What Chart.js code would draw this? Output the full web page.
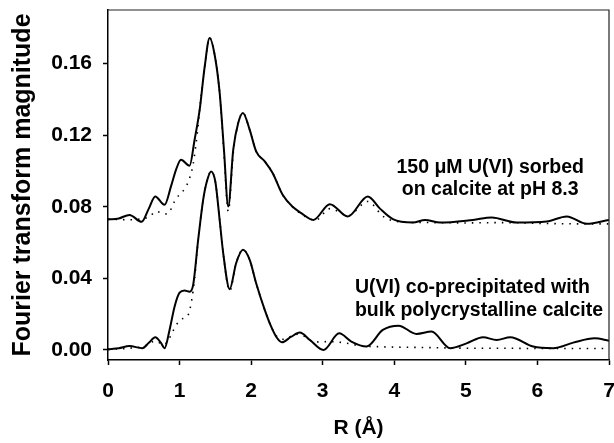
<!DOCTYPE html>
<html>
<head>
<meta charset="utf-8">
<script src="https://cdn.jsdelivr.net/npm/chart.js@4.4.1/dist/chart.umd.min.js"></script>
<style>
  html, body { margin: 0; padding: 0; background: #fff; }
  #wrap { width: 614px; height: 443px; }
</style>
</head>
<body>
<div id="wrap"><canvas id="ftChart"></canvas></div>
<script>
// sorbed U(VI) on calcite, pH 8.3 (offset curve) - experiment and fit
var sorbedR = [0, 0.15, 0.30, 0.47, 0.57, 0.66, 0.79, 0.88, 0.95, 1.02, 1.14, 1.21, 1.28, 1.35, 1.42, 1.49, 1.56, 1.62, 1.68, 1.75, 1.82, 1.885, 1.98, 2.07, 2.19, 2.30, 2.44, 2.58, 2.70, 2.87, 3.10, 3.35, 3.63, 3.80, 3.98, 4.26, 4.43, 4.64, 5.10, 5.36, 5.71, 6.13, 6.41, 6.69, 7.0];
var sorbedData = [0.0730, 0.0735, 0.0755, 0.0716, 0.0790, 0.0858, 0.0811, 0.0914, 0.1007, 0.1063, 0.1030, 0.1175, 0.1340, 0.1580, 0.1744, 0.1650, 0.1438, 0.1120, 0.0802, 0.1120, 0.1270, 0.1325, 0.1230, 0.1110, 0.1054, 0.0989, 0.0867, 0.0800, 0.0765, 0.0727, 0.0815, 0.0746, 0.0858, 0.0790, 0.0731, 0.0712, 0.0727, 0.0712, 0.0727, 0.0740, 0.0712, 0.0718, 0.0746, 0.0705, 0.0727];
var sorbedFitR = [0, 0.30, 0.50, 0.58, 0.67, 0.76, 0.83, 0.93, 1.00, 1.07, 1.14, 1.19, 1.25, 1.28, 1.35, 1.42, 1.49, 1.56, 1.62, 1.68, 1.75, 1.82, 1.885, 1.98, 2.07, 2.19, 2.30, 2.44, 2.58, 2.70, 2.90, 3.10, 3.35, 3.63, 3.85, 4.10, 4.50, 5.00, 5.50, 6.00, 6.50, 7.0];
var sorbedFit = [0.0730, 0.0728, 0.0735, 0.0745, 0.0775, 0.0765, 0.0760, 0.0830, 0.0870, 0.0900, 0.0960, 0.1040, 0.1220, 0.1340, 0.1580, 0.1744, 0.1650, 0.1438, 0.1100, 0.0775, 0.1100, 0.1270, 0.1325, 0.1230, 0.1110, 0.1054, 0.0989, 0.0867, 0.0800, 0.0760, 0.0725, 0.0790, 0.0750, 0.0830, 0.0745, 0.0715, 0.0712, 0.0710, 0.0712, 0.0708, 0.0705, 0.0705];

// co-precipitated U(VI) in bulk calcite - experiment and fit
var coppR = [0, 0.15, 0.30, 0.48, 0.57, 0.66, 0.74, 0.79, 0.86, 0.93, 1.00, 1.07, 1.14, 1.19, 1.26, 1.33, 1.38, 1.44, 1.50, 1.56, 1.61, 1.70, 1.79, 1.885, 1.98, 2.07, 2.19, 2.28, 2.35, 2.43, 2.56, 2.68, 2.82, 3.01, 3.23, 3.40, 3.61, 3.84, 4.06, 4.31, 4.52, 4.78, 5.01, 5.24, 5.43, 5.62, 5.94, 6.22, 6.50, 6.80, 7.0];
var coppData = [0.0004, 0.0010, 0.0022, 0.0010, 0.0040, 0.0071, 0.0040, 0.0010, 0.0112, 0.0242, 0.0320, 0.0332, 0.0326, 0.0364, 0.0616, 0.0840, 0.0940, 0.0998, 0.0940, 0.0727, 0.0540, 0.0340, 0.0485, 0.0560, 0.0504, 0.0373, 0.0224, 0.0130, 0.0074, 0.0043, 0.0074, 0.0097, 0.0056, 0.0000, 0.0093, 0.0047, 0.0019, 0.0112, 0.0136, 0.0090, 0.0103, 0.0010, 0.0037, 0.0071, 0.0056, 0.0071, 0.0019, 0.0010, 0.0041, 0.0065, 0.0052];
var coppFitR = [0, 0.30, 0.50, 0.66, 0.78, 0.85, 0.90, 0.97, 1.05, 1.12, 1.17, 1.21, 1.26, 1.33, 1.38, 1.44, 1.50, 1.56, 1.61, 1.70, 1.79, 1.885, 1.98, 2.07, 2.19, 2.28, 2.35, 2.45, 2.55, 2.65, 2.75, 2.85, 2.95, 3.10, 3.30, 3.50, 3.80, 4.20, 4.70, 5.00, 5.50, 6.00, 6.50, 7.0];
var coppFit = [0.0003, 0.0010, 0.0020, 0.0050, 0.0030, 0.0060, 0.0100, 0.0149, 0.0177, 0.0196, 0.0280, 0.0400, 0.0616, 0.0840, 0.0940, 0.0998, 0.0940, 0.0727, 0.0540, 0.0330, 0.0485, 0.0560, 0.0504, 0.0373, 0.0224, 0.0130, 0.0080, 0.0060, 0.0075, 0.0088, 0.0075, 0.0050, 0.0045, 0.0047, 0.0040, 0.0025, 0.0018, 0.0015, 0.0012, 0.0010, 0.0010, 0.0008, 0.0008, 0.0008];

var yTicks = [0, 0.04, 0.08, 0.12, 0.16];
var xTicks = [0, 1, 2, 3, 4, 5, 6, 7];

var notes = [
    { lines: ['150 \u03BCM U(VI) sorbed', 'on calcite at pH 8.3'], x: 5.34, y: [0.0989, 0.0867], align: 'center' },
    { lines: ['U(VI) co-precipitated with', 'bulk polycrystalline calcite'], x: 3.45, y: [0.0317, 0.0190], align: 'left' }
];

var FONT = '"Liberation Sans", Arial, sans-serif';

function pts(rs, vs) {
    return rs.map(function (r, i) { return { x: r, y: vs[i] }; });
}

function solid(data) {
    return { data: data, borderColor: '#000', borderWidth: 2, pointRadius: 0, fill: false, cubicInterpolationMode: 'monotone' };
}
function dotted(data) {
    return { data: data, borderColor: '#000', borderWidth: 1.6, borderDash: [1.5, 6], pointRadius: 0, fill: false, cubicInterpolationMode: 'monotone' };
}

var ftChart = new Chart(document.getElementById('ftChart'), {
    type: 'line',
    data: {
        datasets: [
            dotted(pts(sorbedFitR, sorbedFit)),
            solid(pts(sorbedR, sorbedData)),
            dotted(pts(coppFitR, coppFit)),
            solid(pts(coppR, coppData))
        ]
    },
    options: {
        animation: false,
        responsive: true,
        maintainAspectRatio: false,
        layout: { padding: { top: 10, right: 5, left: 0, bottom: 0 } },
        plugins: { legend: { display: false }, tooltip: { enabled: false } },
        scales: {
            x: {
                type: 'linear',
                min: 0,
                max: 7,
                afterBuildTicks: function (scale) { scale.ticks = xTicks.map(function (v) { return { value: v }; }); },
                afterFit: function (scale) { scale.height = 83; scale.paddingLeft = 0; scale.paddingRight = 0; },
                grid: { drawOnChartArea: false, drawTicks: true, tickLength: 5, tickColor: '#000', tickWidth: 1.5 },
                border: { display: true, color: '#000', width: 1.5 },
                ticks: { color: '#000', padding: 14, maxRotation: 0, font: { family: FONT, size: 21, weight: 'bold' } },
                title: { display: true, text: 'R (\u00C5)', color: '#000', padding: { top: 0, bottom: 2 }, font: { family: FONT, size: 21, weight: 'bold' } }
            },
            y: {
                type: 'linear',
                min: -0.0056,
                max: 0.19,
                afterBuildTicks: function (scale) { scale.ticks = yTicks.map(function (v) { return { value: v }; }); },
                afterFit: function (scale) { scale.width = 108; scale.paddingTop = 0; scale.paddingBottom = 0; },
                grid: { drawOnChartArea: false, drawTicks: true, tickLength: 5, tickColor: '#000', tickWidth: 1.5 },
                border: { display: true, color: '#000', width: 1.5 },
                ticks: {
                    color: '#000', padding: 11,
                    font: { family: FONT, size: 21, weight: 'bold' },
                    callback: function (v) { return v.toFixed(2); }
                },
                title: { display: true, text: 'Fourier transform magnitude', color: '#000', padding: { top: 8, bottom: 0 }, font: { family: FONT, size: 25, weight: 'bold' } }
            }
        }
    },
    plugins: [{
        id: 'frameAndNotes',
        afterDraw: function (chart) {
            var ctx = chart.ctx, a = chart.chartArea;
            var xs = chart.scales.x, ys = chart.scales.y;
            ctx.save();
            ctx.strokeStyle = '#222';
            ctx.lineWidth = 1.2;
            ctx.beginPath();
            ctx.moveTo(a.left, a.top);
            ctx.lineTo(a.right, a.top);
            ctx.lineTo(a.right, a.bottom);
            ctx.stroke();
            ctx.fillStyle = '#000';
            ctx.font = 'bold 19.5px ' + FONT;
            ctx.textBaseline = 'alphabetic';
            notes.forEach(function (n) {
                ctx.textAlign = n.align;
                n.lines.forEach(function (t, i) {
                    ctx.fillText(t, xs.getPixelForValue(n.x), ys.getPixelForValue(n.y[i]));
                });
            });
            ctx.restore();
        }
    }, {
        id: 'whiteBg',
        beforeDraw: function (chart) {
            var ctx = chart.ctx;
            ctx.save();
            ctx.fillStyle = '#fff';
            ctx.fillRect(0, 0, chart.width, chart.height);
            ctx.restore();
        }
    }]
});
</script>
</body>
</html>
